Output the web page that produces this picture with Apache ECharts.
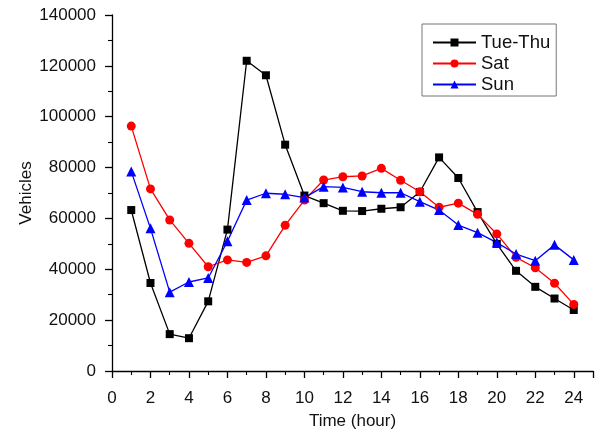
<!DOCTYPE html>
<html><head><meta charset="utf-8">
<script src="https://cdn.jsdelivr.net/npm/echarts@6/dist/echarts.min.js"></script>
<style>html,body{margin:0;padding:0;background:#fff}#c{width:600px;height:434px}</style>
</head><body><div id="c"></div>
<script>
const hours = [1,2,3,4,5,6,7,8,9,10,11,12,13,14,15,16,17,18,19,20,21,22,23,24];
const tueThu = [63300,34600,14500,12900,27400,55600,122000,116300,89000,69000,66000,63000,62900,63800,64400,70400,84000,75900,62500,50000,39400,33100,28500,24000];
const sat = [96300,71600,59400,50200,41000,43700,42700,45300,57300,67200,75100,76400,76700,79700,75000,70500,64400,66000,61600,53900,44700,40600,34500,26200];
const sun = [78500,56100,31000,35000,36600,51000,67200,69900,69500,68200,72500,72200,70500,70100,70100,66600,63300,57400,54400,50500,46000,43400,49600,43700];
const seriesNames = ['Tue-Thu','Sat','Sun'];
const font = '"Liberation Sans", Arial, sans-serif';
function pairs(v){ return hours.map((h,i)=>[h,v[i]]); }
const chart = echarts.init(document.getElementById('c'), null, {renderer:'canvas'});
const axisCommon = {
  axisLine:{show:true,onZero:false,lineStyle:{color:'#000',width:1.3}},
  axisTick:{show:true,inside:false,length:7,lineStyle:{color:'#000',width:1.3}},
  minorTick:{show:true,splitNumber:2,length:4,lineStyle:{color:'#000',width:1.1}},
  splitLine:{show:false},
  axisLabel:{color:'#111',fontFamily:font,fontSize:17},
  nameTextStyle:{color:'#111',fontFamily:font,fontSize:17},
  nameMoveOverlap:false
};
chart.setOption({
  animation:false,
  grid:{left:112,top:15,right:7,bottom:63,containLabel:false,outerBoundsMode:'none'},
  xAxis:Object.assign({}, axisCommon, {
    type:'value',min:0,max:25,interval:2,
    name:'Time (hour)',nameLocation:'middle',nameGap:42,
    axisLabel:Object.assign({}, axisCommon.axisLabel, {margin:19,showMaxLabel:false})
  }),
  yAxis:Object.assign({}, axisCommon, {
    type:'value',min:0,max:140000,interval:20000,
    name:'Vehicles',nameLocation:'middle',nameGap:77,nameRotate:90,
    axisLabel:Object.assign({}, axisCommon.axisLabel, {margin:16,formatter:function(v){return String(v);}})
  }),
  legend:{
    orient:'vertical',left:422,top:24,
    data:seriesNames,
    borderColor:'#777',borderWidth:1,padding:[9,6,2,10],
    itemWidth:43,itemHeight:10,itemGap:2,
    textStyle:{color:'#111',fontFamily:font,fontSize:18.5,padding:[0,0,0,0]}
  },
  series:[
    {name:seriesNames[0],type:'line',data:pairs(tueThu),symbol:'rect',symbolSize:8,
     lineStyle:{color:'#000',width:1.3},itemStyle:{color:'#000'}},
    {name:seriesNames[1],type:'line',data:pairs(sat),symbol:'circle',symbolSize:9,
     lineStyle:{color:'#ff0000',width:1.3},itemStyle:{color:'#ff0000'}},
    {name:seriesNames[2],type:'line',data:pairs(sun),symbol:'triangle',symbolSize:10,
     lineStyle:{color:'#0000ff',width:1.3},itemStyle:{color:'#0000ff'}}
  ]
});
</script></body></html>
